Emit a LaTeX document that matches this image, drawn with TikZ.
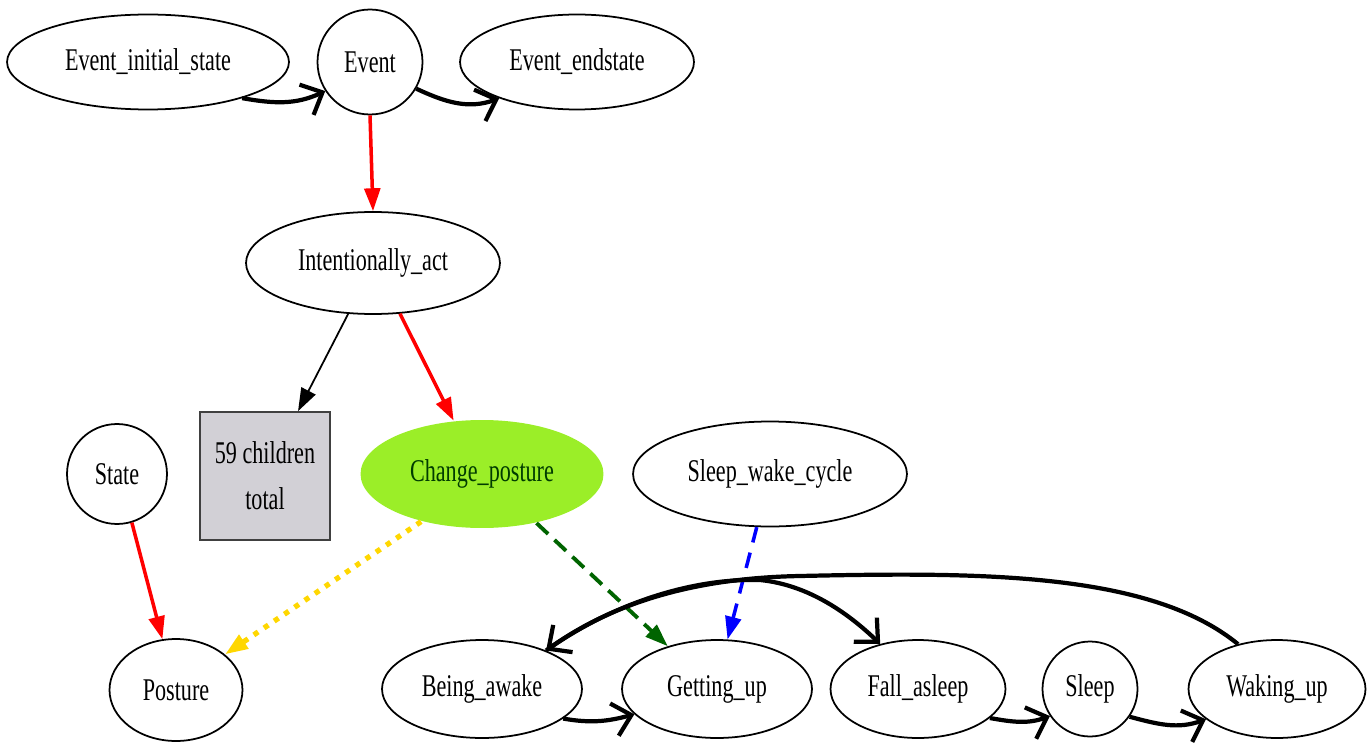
\documentclass[tikz,border=0pt]{standalone}
\usepackage{fontspec}
\setmainfont{Liberation Serif}[FakeStretch=0.7]
\usepackage{tikz}
\usetikzlibrary{arrows.meta,shapes.geometric}
\definecolor{postgreen}{RGB}{155,238,40}
\definecolor{boxgray}{RGB}{210,208,214}
\definecolor{usedgreen}{RGB}{0,100,0}
\definecolor{subgold}{RGB}{255,215,0}
\tikzset{
    >={Triangle[length=13pt,width=9pt]},
    frame/.style={ellipse,draw,line width=1pt,inner sep=0pt,minimum height=1.96cm,
        font=\fontsize{18}{21}\selectfont},
    roundframe/.style={circle,draw,line width=1pt,inner sep=0pt,font=\fontsize{18}{21}\selectfont},
    order/.style={line width=2.4pt,-{Straight Barb[length=10pt,width=19pt]}},
    inherit/.style={red,line width=2pt,->},
    using/.style={usedgreen,line width=2.2pt,dash pattern=on 9pt off 5pt,->},
    subframe/.style={subgold,line width=3pt,dash pattern=on 3pt off 4pt,->},
    seealso/.style={blue,line width=2pt,dash pattern=on 9pt off 6pt,->}
}

\begin{document}
\begin{tikzpicture}[x=0.02cm,y=-0.02cm]
    \useasboundingbox (0,0) rectangle (1368,743);

    % Top row
    \node[frame,minimum width=5.64cm,minimum height=1.9cm] (ini) at (148,62) {Event\_initial\_state};
    \node[roundframe,minimum size=2.1cm] (ev) at (370,62) {Event};
    \node[frame,minimum width=4.68cm,minimum height=1.9cm] (end) at (577,62) {Event\_endstate};
    \node[frame,minimum width=5.08cm,minimum height=2.04cm] (int) at (373,263) {Intentionally\_act};

    % Middle row
    \node[roundframe,minimum size=2cm] (state) at (117,474) {State};
    \node[draw=black!75,fill=boxgray,line width=1pt,minimum width=2.6cm,minimum height=2.56cm,
        align=center,font=\fontsize{18}{26}\selectfont] (kids) at (265,476) {59 children\\total};
    \node[frame,draw=none,fill=postgreen,text=usedgreen!60!black,minimum width=4.86cm,
        minimum height=2.16cm] (chp) at (482,474) {Change\_posture};
    \node[frame,minimum width=5.48cm,minimum height=2.1cm] (swc) at (770,474) {Sleep\_wake\_cycle};

    % Bottom row
    \node[frame,minimum width=2.66cm,minimum height=2.04cm] (post) at (176,690) {Posture};
    \node[frame,minimum width=4cm] (awake) at (482,689) {Being\_awake};
    \node[frame,minimum width=3.8cm] (getup) at (717,689) {Getting\_up};
    \node[frame,minimum width=3.5cm] (fall) at (918,689) {Fall\_asleep};
    \node[roundframe,minimum size=1.9cm] (sleep) at (1090,689) {Sleep};
    \node[frame,minimum width=3.54cm] (wake) at (1277,689) {Waking\_up};

    % Edges
    \draw[order] (ini.-21) to[out=-10,in=205] (ev.213);
    \draw[order] (ev.-30) to[out=-25,in=200] (end.205);
    \draw[inherit] (ev.south) -- (int.north);
    \draw[black,line width=1pt,->] (int.244) -- (kids.63);
    \draw[inherit] (int.-62) -- (chp.118);
    \draw[inherit] (state.-73) -- (post.105);
    \draw[subframe] (chp.218) -- (post.36);
    \draw[using] (chp.-42) -- (getup.139);
    \draw[seealso] (swc.256) -- (getup.78);

    % Sleep cycle
    \draw[order] (awake.-20) to[out=-10,in=195] (getup.197);
    \draw[order] (fall.-22) to[out=-10,in=200] (sleep.214);
    \draw[order] (sleep.-35) to[out=-15,in=200] (wake.203);
    \draw[order] (wake.131) .. controls (1150,572) and (980,572) .. (800,576)
        .. controls (690,578) and (610,605) .. (awake.31);
    \draw[order] (awake.31) .. controls (610,605) and (690,578) .. (760,580)
        .. controls (810,585) and (850,615) .. (fall.130);
\end{tikzpicture}
\end{document}
